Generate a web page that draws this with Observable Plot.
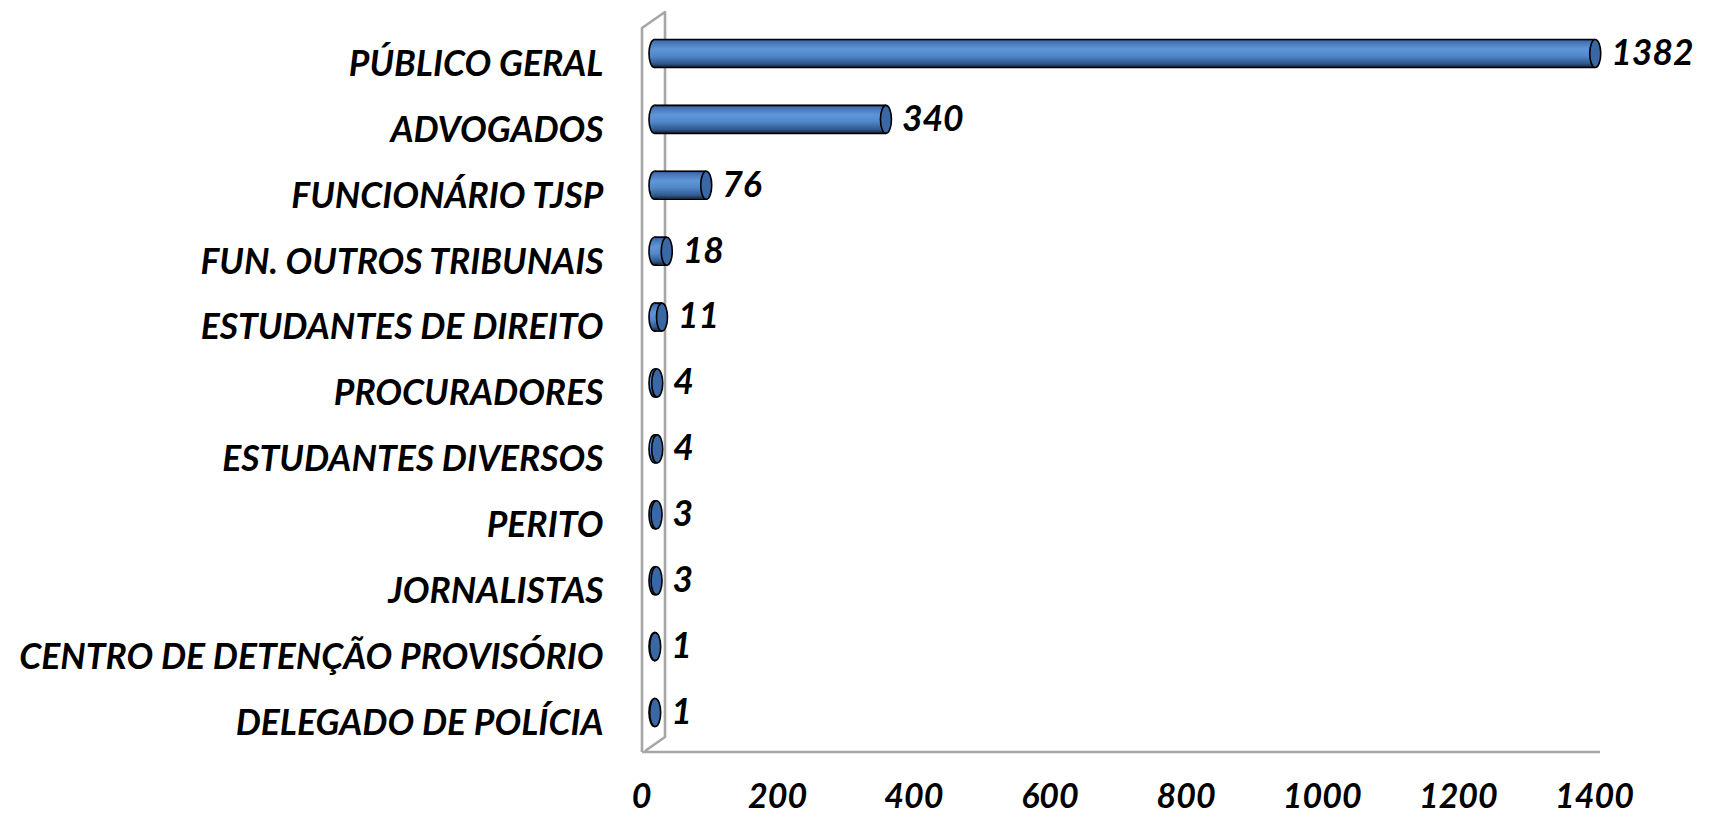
<!DOCTYPE html>
<html>
<head>
<meta charset="utf-8">
<script src="https://cdn.jsdelivr.net/npm/d3@7"></script>
<script src="https://cdn.jsdelivr.net/npm/@observablehq/plot@0.6"></script>
<style>
  html, body { margin: 0; padding: 0; background: #ffffff; }
  #chart { width: 1710px; height: 819px; }
</style>
</head>
<body>
<div id="chart"></div>
<script>
const categories = [
  "PÚBLICO GERAL",
  "ADVOGADOS",
  "FUNCIONÁRIO TJSP",
  "FUN. OUTROS TRIBUNAIS",
  "ESTUDANTES DE DIREITO",
  "PROCURADORES",
  "ESTUDANTES DIVERSOS",
  "PERITO",
  "JORNALISTAS",
  "CENTRO DE DETENÇÃO PROVISÓRIO",
  "DELEGADO DE POLÍCIA"
];
const values = [1382, 340, 76, 18, 11, 4, 4, 3, 3, 1, 1];
const xTicks = [0, 200, 400, 600, 800, 1000, 1200, 1400];

const data = categories.map((c, i) => ({cat: c, value: values[i]}));

const RX = 5.5, RY = 14;
const ellipse = {
  draw(ctx) {
    const k = 0.5523;
    ctx.moveTo(RX, 0);
    ctx.bezierCurveTo(RX, k * RY, k * RX, RY, 0, RY);
    ctx.bezierCurveTo(-k * RX, RY, -RX, k * RY, -RX, 0);
    ctx.bezierCurveTo(-RX, -k * RY, -k * RX, -RY, 0, -RY);
    ctx.bezierCurveTo(k * RX, -RY, RX, -k * RY, RX, 0);
    ctx.closePath();
  }
};

const font = {fontSize: 35.5, fontWeight: "bold", fontStyle: "italic"};

const plot = Plot.plot({
  width: 1710,
  height: 819,
  marginLeft: 654,
  marginRight: 103,
  marginTop: 10,
  marginBottom: 64,
  style: {fontFamily: "Lato", background: "#ffffff", color: "#000"},
  x: {domain: [0, 1400], ticks: xTicks, label: null},
  y: {domain: categories, paddingInner: 0.575, paddingOuter: 0.44, round: false, label: null},
  marks: [
    Plot.axisX({anchor: "bottom", ticks: xTicks, tickFormat: d => String(d), tickSize: 0, tickPadding: 28, dx: -13, label: null, ...font, fontSize: 34}),
    Plot.axisY({tickSize: 0, tickPadding: 51, dy: 11, label: null, ...font}),
    Plot.dot(data, {x: () => 0, y: "cat", symbol: ellipse, r: 5, fill: "url(#cyl)", stroke: "#000", strokeWidth: 1.6}),
    Plot.barX(data, {x: "value", y: "cat", fill: "url(#cyl)"}),
    Plot.link(data, {x1: () => 0, x2: "value", y1: "cat", y2: "cat", dy: -RY, stroke: "#000", strokeWidth: 1.6}),
    Plot.link(data, {x1: () => 0, x2: "value", y1: "cat", y2: "cat", dy: RY, stroke: "#000", strokeWidth: 1.6}),
    Plot.dot(data, {x: "value", y: "cat", symbol: ellipse, r: 5, fill: "#3a68a4", stroke: "#000", strokeWidth: 1.6}),
    Plot.text(data, {x: "value", y: "cat", text: d => String(d.value), dx: 16, textAnchor: "start", fill: "#000", ...font})
  ]
});

// gradient for the cylinder bodies
const svg = d3.select(plot);
const defs = svg.insert("defs", ":first-child");
const g = defs.append("linearGradient").attr("id", "cyl")
  .attr("x1", 0).attr("y1", 0).attr("x2", 0).attr("y2", 1);
[[0, "#1c2f4d"], [0.08, "#3f70b0"], [0.35, "#5e96d8"], [0.6, "#5088c9"], [0.88, "#30588c"], [1, "#17273f"]]
  .forEach(([o, c]) => g.append("stop").attr("offset", o).attr("stop-color", c));

// back wall and floor (decoration), positioned from the scales
const xs = plot.scale("x"), ys = plot.scale("y");
const x0 = xs.apply(0), xEnd = xs.apply(1400);
const [r0, r1] = ys.range;
const wl = x0 - 12, wr = x0 + 11, floorY = r1 - 3;
const wallPath = `M${wl},${floorY} L${wl},${r0 + 18} L${wr},${r0 + 2} L${wr},${floorY - 15} L${wl + 3},${floorY - 1}` +
  ` M${wl},${floorY} L${xEnd - 7},${floorY}`;
svg.insert("path", "g")
  .attr("d", wallPath)
  .attr("fill", "none")
  .attr("stroke", "#a6a6a6")
  .attr("stroke-width", 2.6)
  .attr("stroke-linejoin", "round");

document.getElementById("chart").appendChild(plot);
</script>
</body>
</html>
